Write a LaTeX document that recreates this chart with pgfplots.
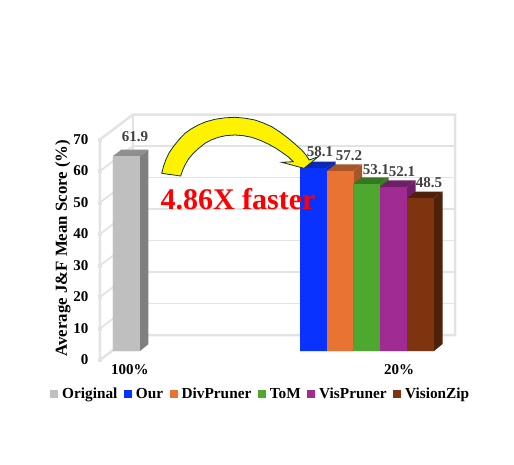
\documentclass[border=0pt]{standalone}
\usepackage{fontspec}
\setmainfont{Liberation Serif}
\usepackage{pgfplots}
\pgfplotsset{compat=1.18}
\definecolor{wall}{RGB}{227,227,227}
\definecolor{grayF}{RGB}{191,191,191}
\definecolor{grayS}{RGB}{127,127,127}
\definecolor{grayT}{RGB}{143,143,143}
\definecolor{blueF}{RGB}{10,50,255}
\definecolor{blueT}{RGB}{10,40,180}
\definecolor{orangeF}{RGB}{233,115,51}
\definecolor{orangeT}{RGB}{169,85,42}
\definecolor{greenF}{RGB}{78,167,46}
\definecolor{greenT}{RGB}{55,119,31}
\definecolor{purpleF}{RGB}{160,43,147}
\definecolor{purpleT}{RGB}{112,30,103}
\definecolor{brownF}{RGB}{127,52,16}
\definecolor{brownT}{RGB}{79,32,10}
\definecolor{lab}{RGB}{64,64,64}
\definecolor{arrowline}{RGB}{15,47,63}
\pgfplotsset{
  front/.style={ybar, bar width=27pt, bar shift=0pt, draw=none, fill=#1,
    /pgfplots/legend image code/.code={\fill[##1] (0pt,-4pt) rectangle (8pt,4pt);\path (8pt,0pt) -- (10pt,0pt);}},
  face/.style={fill=#1, draw=none, forget plot},
  grid3d/.style={wall, line width=1.8pt, forget plot},
  edge3d/.style={wall, line width=2.5pt, forget plot},
}
\begin{document}
\begin{tikzpicture}
\begin{axis}[scale only axis, width=360pt, height=260pt, clip=false,
  xmin=100, xmax=460, ymin=-2.857, ymax=79.68,
  axis line style={draw=none}, major tick length=0pt,
  xtick={130,399}, xticklabels={100\%,20\%},
  ytick={0,10,20,30,40,50,60,70},
  /pgf/number format/assume math mode=true,
  tick label style={font=\fontsize{15}{17}\selectfont\bfseries},
  yticklabel style={yshift=-9pt, xshift=-8pt},
  xticklabel style={yshift=-1pt},
  ylabel={Average J\&F Mean Score (\%)},
  every axis y label/.style={at={(axis cs:63,32.7)}, rotate=90, anchor=center,
    font=\fontsize{16.8}{19}\selectfont\bfseries},
  legend columns=6,
  legend style={at={(axis cs:50,-13.65)}, anchor=west, draw=none, fill=none,
    inner sep=0pt, font=\fontsize{15.3}{17}\selectfont\bfseries,
    /tikz/every even column/.append style={column sep=4.5pt}},
  legend cell align=left,
]
% back wall
\addplot[grid3d] coordinates {(133,15.08) (455,15.08)};
\addplot[grid3d] coordinates {(133,25.08) (455,25.08)};
\addplot[grid3d] coordinates {(133,35.08) (455,35.08)};
\addplot[grid3d] coordinates {(133,45.08) (455,45.08)};
\addplot[grid3d] coordinates {(133,55.08) (455,55.08)};
\addplot[grid3d] coordinates {(133,65.08) (455,65.08)};
% left wall
\addplot[grid3d] coordinates {(100,7.143) (133,15.08)};
\addplot[grid3d] coordinates {(100,17.14) (133,25.08)};
\addplot[grid3d] coordinates {(100,27.14) (133,35.08)};
\addplot[grid3d] coordinates {(100,37.14) (133,45.08)};
\addplot[grid3d] coordinates {(100,47.14) (133,55.08)};
\addplot[grid3d] coordinates {(100,57.14) (133,65.08)};
% frame
\addplot[edge3d] coordinates {(100,-2.857) (100,67.14) (133,75.08) (455,75.08) (455,5.08) (133,5.08) (100,-2.857)};
\addplot[edge3d] coordinates {(133,5.08) (133,75.08)};
% tick stubs
\addplot[edge3d, line width=4pt] coordinates {(98,-2.857) (102,-2.857)};
\addplot[edge3d, line width=4pt] coordinates {(98,7.143) (102,7.143)};
\addplot[edge3d, line width=4pt] coordinates {(98,17.14) (102,17.14)};
\addplot[edge3d, line width=4pt] coordinates {(98,27.14) (102,27.14)};
\addplot[edge3d, line width=4pt] coordinates {(98,37.14) (102,37.14)};
\addplot[edge3d, line width=4pt] coordinates {(98,47.14) (102,47.14)};
\addplot[edge3d, line width=4pt] coordinates {(98,57.14) (102,57.14)};
\addplot[edge3d, line width=4pt] coordinates {(98,67.14) (102,67.14)};
% Original
\addplot[face=grayS] coordinates {(140,0) (148.5,2.2) (148.5,63.96) (140,61.9)} \closedcycle;
\addplot[face=grayT] coordinates {(113,61.9) (121.5,63.96) (148.5,63.96) (140,61.9)} \closedcycle;
\addplot[front=grayF] coordinates {(126.5,61.9)};
\addlegendentry{Original}
% Our
\addplot[face=blueT] coordinates {(327,0) (335.5,2.2) (335.5,60.16) (327,58.1)} \closedcycle;
\addplot[face=blueT] coordinates {(300,58.1) (308.5,60.16) (335.5,60.16) (327,58.1)} \closedcycle;
\addplot[front=blueF] coordinates {(313.5,58.1)};
\addlegendentry{Our}
% DivPruner
\addplot[face=orangeT] coordinates {(353.5,0) (362,2.2) (362,59.26) (353.5,57.2)} \closedcycle;
\addplot[face=orangeT] coordinates {(327,57.2) (335.5,59.26) (362,59.26) (353.5,57.2)} \closedcycle;
\addplot[front=orangeF, bar width=26.5pt] coordinates {(340.25,57.2)};
\addlegendentry{DivPruner}
% ToM
\addplot[face=greenT] coordinates {(380,0) (388.5,2.2) (388.5,55.16) (380,53.1)} \closedcycle;
\addplot[face=greenT] coordinates {(353.5,53.1) (362,55.16) (388.5,55.16) (380,53.1)} \closedcycle;
\addplot[front=greenF, bar width=26.5pt] coordinates {(366.75,53.1)};
\addlegendentry{ToM}
% VisPruner
\addplot[face=purpleT] coordinates {(407,0) (415.5,2.2) (415.5,54.16) (407,52.1)} \closedcycle;
\addplot[face=purpleT] coordinates {(380,52.1) (388.5,54.16) (415.5,54.16) (407,52.1)} \closedcycle;
\addplot[front=purpleF] coordinates {(393.5,52.1)};
\addlegendentry{VisPruner}
% VisionZip
\addplot[face=brownT] coordinates {(434,0) (442.5,2.2) (442.5,50.56) (434,48.5)} \closedcycle;
\addplot[face=brownT] coordinates {(407,48.5) (415.5,50.56) (442.5,50.56) (434,48.5)} \closedcycle;
\addplot[front=brownF] coordinates {(420.5,48.5)};
\addlegendentry{VisionZip}
% arrow, pixel positions turned into the value scale
\addplot[fill=yellow, draw=arrowline, line width=0.8pt, forget plot] table[x=px, y expr=(351-\thisrow{py})/3.15] {
px py
161.7 173.3
163.3 167
165.7 160
169 153
173.3 146.7
179 139.5
185 133.3
191 129
198.3 125
206 121.7
215 119.3
225 117.8
235 117.3
245 118.2
255 120
263 122.8
271.7 126.7
280 132
288.3 138.3
295 144
301.7 150
306 155
309.3 160
318.3 156.7
304 168.3
281.7 162.3
293.3 161.7
288.5 157
283.3 153.3
276 148.3
268.3 144
260 140.2
251.7 137.3
243 135.6
235 135
226 135.6
218.3 137.3
211 140
205 143.3
199 148
193.3 153.3
188.5 159
185 165
182.5 170.5
180.7 176
161.7 173.3
};
\node[font=\fontsize{15}{17}\selectfont\bfseries, text=lab] at (axis cs:135,67.94) {61.9};
\node[font=\fontsize{15}{17}\selectfont\bfseries, text=lab] at (axis cs:320,63.17) {58.1};
\node[font=\fontsize{15}{17}\selectfont\bfseries, text=lab] at (axis cs:349,61.90) {57.2};
\node[font=\fontsize{15}{17}\selectfont\bfseries, text=lab] at (axis cs:376,57.46) {53.1};
\node[font=\fontsize{15}{17}\selectfont\bfseries, text=lab] at (axis cs:402,56.83) {52.1};
\node[font=\fontsize{15}{17}\selectfont\bfseries, text=lab] at (axis cs:429,53.33) {48.5};
\node[font=\fontsize{30}{34}\selectfont\bfseries, text=red] at (axis cs:238,48.25) {4.86X faster};
\path (axis cs:0,111.43) rectangle (axis cs:514,-35.87);
\end{axis}
\end{tikzpicture}
\end{document}
